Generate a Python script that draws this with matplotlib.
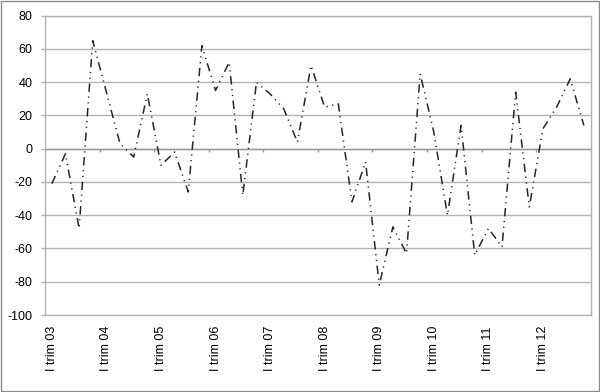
import matplotlib
matplotlib.use("Agg")
import matplotlib.pyplot as plt
import matplotlib.patches as patches
import numpy as np

plt.rcParams['font.family'] = ['Liberation Sans', 'DejaVu Sans']

# quarterly series, I trim 03 .. IV trim 12
years = ['03', '04', '05', '06', '07', '08', '09', '10', '11', '12']
values = [-21, -3, -48, 65, 34, 3, -5, 33, -10, -2,
          -26, 62, 35, 52, -28, 40, 33, 24, 4, 50,
          25, 27, -32, -8, -82, -47, -63, 45, 10, -40,
          14, -64, -48, -59, 34, -35, 12, 25, 42, 14]
y_ticks = [-100, -80, -60, -40, -20, 0, 20, 40, 60, 80]

n = len(values)
x = np.arange(n)
grid_col = '#b3b3b3'

fig = plt.figure(figsize=(6, 3.92), dpi=100, facecolor='white')
ax = fig.add_axes([45 / 600, 1 - 315 / 392, 545.7 / 600, 299.3 / 392])

ax.set_xlim(-0.5, n - 0.5)
ax.set_ylim(-100, 80)

ax.set_yticks(y_ticks)
ax.set_yticklabels([str(v) for v in y_ticks])
ax.yaxis.grid(True, color=grid_col, linewidth=1.0)
ax.set_axisbelow(True)

# category labels every 4th quarter
ax.set_xticks(x[::4])
ax.set_xticklabels(['I trim ' + yy for yy in years], rotation=90, va='top', ha='center')
ax.tick_params(axis='x', length=0, pad=8, labelsize=9)
ax.tick_params(axis='y', length=3, width=1, color=grid_col, pad=6, labelsize=9)

for sp in ax.spines.values():
    sp.set_color(grid_col)
    sp.set_linewidth(1.0)

# category axis crosses at 0 with ticks between year groups
bounds = np.arange(-0.5, n, 4)
ax.axhline(0, color='#999999', linewidth=1.0, zorder=1)
ax.vlines(bounds, -1.8, 0, color='#999999', linewidth=1.0, zorder=1)

ax.plot(x, values, color='#262626', linewidth=1.1,
        linestyle=(0, (5.5, 3, 0.8, 3, 0.8, 3)), zorder=3)

fig.patches.append(patches.Rectangle((0.5 / 600, 1.5 / 392), 598 / 600, 389.5 / 392,
                                     transform=fig.transFigure, fill=False,
                                     edgecolor='#8c8c8c', linewidth=1.0))

fig.savefig('out.png', dpi=100)
